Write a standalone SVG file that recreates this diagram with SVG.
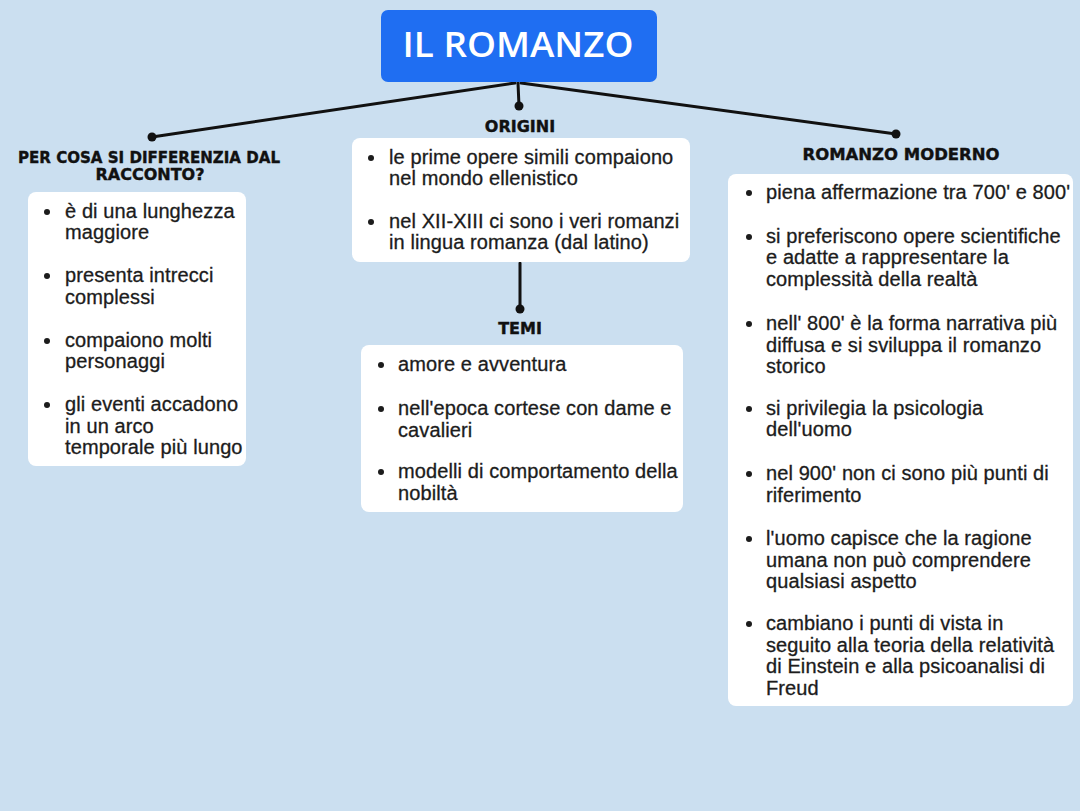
<svg xmlns="http://www.w3.org/2000/svg" width="1080" height="811" viewBox="0 0 1080 811">
<style>
.box{fill:#ffffff}
.t{font-family:"Liberation Sans",Arial,sans-serif;font-size:20px;letter-spacing:0.1px;fill:#1c1c1c;stroke:#1c1c1c;stroke-width:0.3}
.h{font-family:"DejaVu Sans",sans-serif;font-weight:bold;font-size:16px;fill:#111;stroke:#111;stroke-width:0.4;text-anchor:middle}
.b{fill:#1c1c1c}
.c{stroke:#111;stroke-width:3;fill:none;stroke-linecap:round}
.d{fill:#111}
</style>
<rect width="1080" height="811" fill="#cbdff0"/>
<g id="connectors">
<line class="c" x1="515" y1="83" x2="152" y2="137"/>
<line class="c" x1="521" y1="83" x2="896" y2="134"/>
<line class="c" x1="518" y1="83" x2="519" y2="106"/>
<line class="c" x1="520" y1="263" x2="520" y2="309"/>
<circle class="d" cx="152" cy="137" r="4.5"/>
<circle class="d" cx="896" cy="134" r="4.5"/>
<circle class="d" cx="519" cy="106" r="4.5"/>
<circle class="d" cx="520" cy="309" r="4.5"/>
</g>
<g id="title">
<rect x="381" y="10" width="276" height="72" rx="7" fill="#1f6ef2"/>
<text x="518" y="57" text-anchor="middle" font-family="'Open Sans',sans-serif" font-weight="600" font-size="35" fill="#ffffff" textLength="231" lengthAdjust="spacingAndGlyphs">IL ROMANZO</text>
</g>
<g id="differenze">
<text class="h" x="149" y="163" textLength="262" lengthAdjust="spacingAndGlyphs">PER COSA SI DIFFERENZIA DAL</text>
<text class="h" x="150" y="180">RACCONTO?</text>
<rect class="box" x="28" y="192" width="218" height="274" rx="8"/>
<circle class="b" cx="47" cy="212" r="3"/>
<text class="t" x="65" y="218">è di una lunghezza</text>
<text class="t" x="65" y="239">maggiore</text>
<circle class="b" cx="47" cy="276" r="3"/>
<text class="t" x="65" y="282">presenta intrecci</text>
<text class="t" x="65" y="304">complessi</text>
<circle class="b" cx="47" cy="341" r="3"/>
<text class="t" x="65" y="347">compaiono molti</text>
<text class="t" x="65" y="368">personaggi</text>
<circle class="b" cx="47" cy="405" r="3"/>
<text class="t" x="65" y="411">gli eventi accadono</text>
<text class="t" x="65" y="433">in un arco</text>
<text class="t" x="65" y="454">temporale più lungo</text>
</g>
<g id="origini">
<text class="h" x="520" y="132">ORIGINI</text>
<rect class="box" x="352" y="138" width="338" height="124" rx="8"/>
<circle class="b" cx="371" cy="158" r="3"/>
<text class="t" x="389" y="164">le prime opere simili compaiono</text>
<text class="t" x="389" y="185">nel mondo ellenistico</text>
<circle class="b" cx="371" cy="222" r="3"/>
<text class="t" x="389" y="228">nel XII-XIII ci sono i veri romanzi</text>
<text class="t" x="389" y="249">in lingua romanza (dal latino)</text>
</g>
<g id="temi">
<text class="h" x="520" y="334">TEMI</text>
<rect class="box" x="361" y="345" width="322" height="167" rx="8"/>
<circle class="b" cx="381" cy="365" r="3"/>
<text class="t" x="398" y="371">amore e avventura</text>
<circle class="b" cx="381" cy="409" r="3"/>
<text class="t" x="398" y="415">nell'epoca cortese con dame e</text>
<text class="t" x="398" y="437">cavalieri</text>
<circle class="b" cx="381" cy="472" r="3"/>
<text class="t" x="398" y="478">modelli di comportamento della</text>
<text class="t" x="398" y="500">nobiltà</text>
</g>
<g id="moderno">
<text class="h" x="901" y="160" textLength="197" lengthAdjust="spacingAndGlyphs">ROMANZO MODERNO</text>
<rect class="box" x="728" y="174" width="345" height="532" rx="8"/>
<circle class="b" cx="749" cy="193" r="3"/>
<text class="t" x="766" y="199">piena affermazione tra 700' e 800'</text>
<circle class="b" cx="749" cy="237" r="3"/>
<text class="t" x="766" y="243">si preferiscono opere scientifiche</text>
<text class="t" x="766" y="264">e adatte a rappresentare la</text>
<text class="t" x="766" y="286">complessità della realtà</text>
<circle class="b" cx="749" cy="324" r="3"/>
<text class="t" x="766" y="330">nell' 800' è la forma narrativa più</text>
<text class="t" x="766" y="352">diffusa e si sviluppa il romanzo</text>
<text class="t" x="766" y="373">storico</text>
<circle class="b" cx="749" cy="409" r="3"/>
<text class="t" x="766" y="415">si privilegia la psicologia</text>
<text class="t" x="766" y="436">dell'uomo</text>
<circle class="b" cx="749" cy="474" r="3"/>
<text class="t" x="766" y="480">nel 900' non ci sono più punti di</text>
<text class="t" x="766" y="502">riferimento</text>
<circle class="b" cx="749" cy="539" r="3"/>
<text class="t" x="766" y="545">l'uomo capisce che la ragione</text>
<text class="t" x="766" y="567">umana non può comprendere</text>
<text class="t" x="766" y="588">qualsiasi aspetto</text>
<circle class="b" cx="749" cy="624" r="3"/>
<text class="t" x="766" y="630">cambiano i punti di vista in</text>
<text class="t" x="766" y="652">seguito alla teoria della relatività</text>
<text class="t" x="766" y="673">di Einstein e alla psicoanalisi di</text>
<text class="t" x="766" y="695">Freud</text>
</g>
</svg>
